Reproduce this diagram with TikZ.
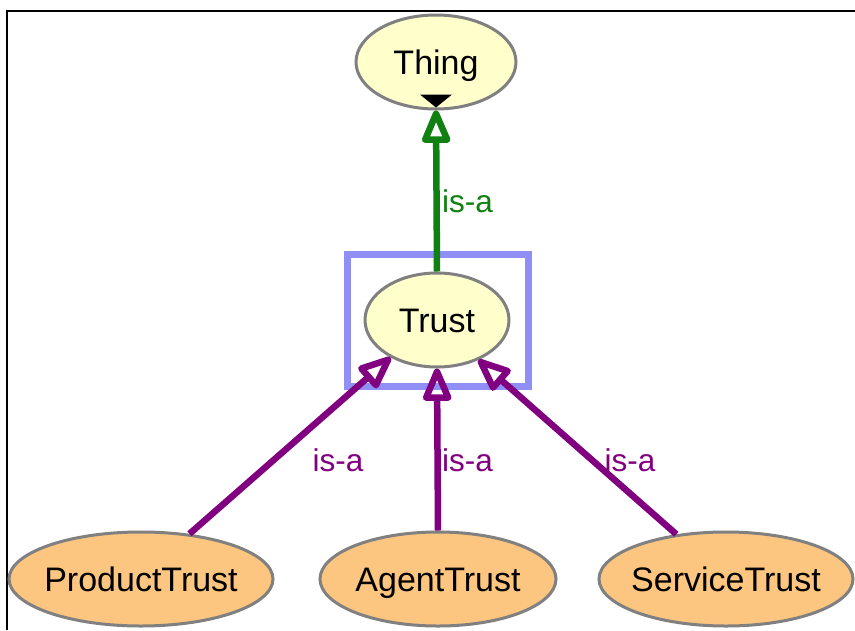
\documentclass[tikz,border=0pt]{standalone}
\usepackage{fontspec}
\setmainfont{Liberation Sans}
\usetikzlibrary{shapes.geometric,arrows.meta}

\definecolor{classfill}{RGB}{255,255,204}
\definecolor{subfill}{RGB}{252,198,128}
\definecolor{rimgray}{RGB}{128,128,128}
\definecolor{selblue}{RGB}{143,143,245}
\definecolor{isagreen}{RGB}{16,128,16}
\definecolor{isapurple}{RGB}{128,0,128}

\tikzset{
  cls/.style={ellipse, draw=rimgray, line width=3pt, inner sep=-30pt,
    font=\fontsize{34pt}{40pt}\selectfont, text height=24.5pt, text depth=0pt,
    minimum height=94pt},
  topcls/.style={cls, fill=classfill},
  subcls/.style={cls, fill=subfill},
  selbox/.style={draw=selblue, line width=7pt, inner sep=0pt},
  isalabel/.style={font=\fontsize{31.5pt}{36pt}\selectfont, anchor=base, inner sep=0pt},
  isagen/.style={line width=6.5pt,
    -{Triangle[open, length=38pt, width=30pt, line width=6.5pt, round]}},
}

\begin{document}
\begin{tikzpicture}[x=1pt, y=-1pt]
  \useasboundingbox (0,0) rectangle (855,630);
  \fill[white] (0,0) rectangle (855,630);

  % outer frame (top and left edges)
  \draw[line width=2.5pt] (7,630) -- (7,11) -- (855,11);

  % classes
  \node[topcls, minimum width=160pt] (thing) at (436,62) {Thing};
  \node[topcls, minimum width=144pt] (trust) at (437,320) {Trust};
  \node[selbox, minimum width=181pt, minimum height=132pt] (sel) at (437.5,320) {};
  \node[subcls, minimum width=264pt] (product) at (141,579) {ProductTrust};
  \node[subcls, minimum width=236pt] (agent) at (438,579) {AgentTrust};
  \node[subcls, minimum width=254pt] (service) at (726,579) {ServiceTrust};

  % marker at the bottom of Thing
  \fill (thing.south) ++(-16,-16) -- ++(32,0) -- ++(-16,13) -- cycle;

  % is-a links
  \draw[isagen, draw=isagreen] (trust.north) -- (thing.south);
  \draw[isagen, draw=isapurple] (product.43) -- (trust.219);
  \draw[isagen, draw=isapurple] (agent.north) -- (trust.south);
  \draw[isagen, draw=isapurple] (service.138) -- (trust.-44);

  % link labels
  \node[isalabel, text=isagreen] (lthing) at (467.5,212) {is-a};
  \node[isalabel, text=isapurple] (lproduct) at (338,471) {is-a};
  \node[isalabel, text=isapurple] (lagent) at (467.5,471) {is-a};
  \node[isalabel, text=isapurple] (lservice) at (630,471) {is-a};
\end{tikzpicture}
\end{document}
